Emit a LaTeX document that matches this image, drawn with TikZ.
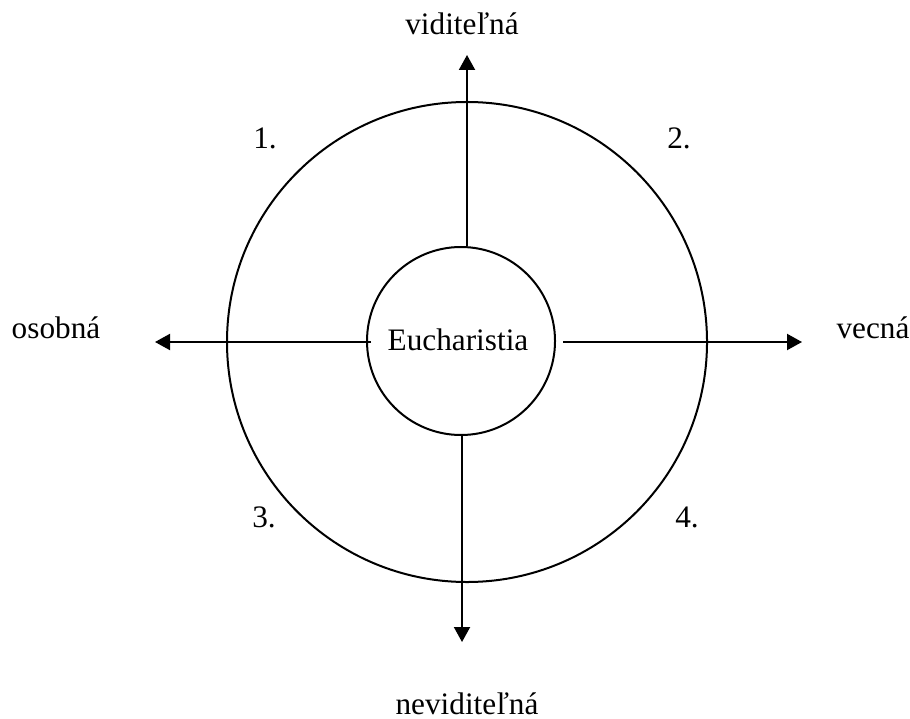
\documentclass[tikz,border=0pt]{standalone}
\usepackage{fontspec}
\setmainfont{Liberation Serif}
\usetikzlibrary{arrows.meta,positioning}

\begin{document}
\begin{tikzpicture}[
        x=0.4pt,y=-0.4pt,
        every node/.style={font=\fontsize{12.5}{15}\selectfont},
        ring/.style={circle,draw,line width=0.8pt,inner sep=0pt},
        label/.style={anchor=base,inner sep=0pt},
        arrow/.style={-{Triangle[length=6pt,width=6.4pt]},line width=0.8pt}
      ]
        \useasboundingbox (0,0) rectangle (910,718);
        \node[ring,minimum size=192pt] (outer) at (467,342) {};
        \node[ring,minimum size=75.2pt] (euch) at (461,341) {};
        \node[label] (euchtext) at (458,350) {Eucharistia};
        % arrow ends
        \coordinate (up) at (467,55);
        \coordinate (down) at (462,642);
        \coordinate (left) at (155,342);
        \coordinate (right) at (802,342);
        \draw[arrow] (euch.north -| up) -- (up);
        \draw[arrow] (euch.south -| down) -- (down);
        \draw[arrow] ([xshift=2pt]euch.west |- left) -- (left);
        \draw[arrow] ([xshift=2.8pt]euch.east |- right) -- (right);
        % axis labels
        \node[label] (vid) at (462,35) {viditeľná};
        \node[label] (nevid) at (467,714) {neviditeľná};
        \node[label] (osob) at (56,338) {osobná};
        \node[label] (vec) at (873,338) {vecná};
        % quadrants
        \node[label] (q1) at (265,149) {1.};
        \node[label] (q2) at (679,149) {2.};
        \node[label] (q3) at (264,527) {3.};
        \node[label] (q4) at (687,527) {4.};
      \end{tikzpicture}
\end{document}
